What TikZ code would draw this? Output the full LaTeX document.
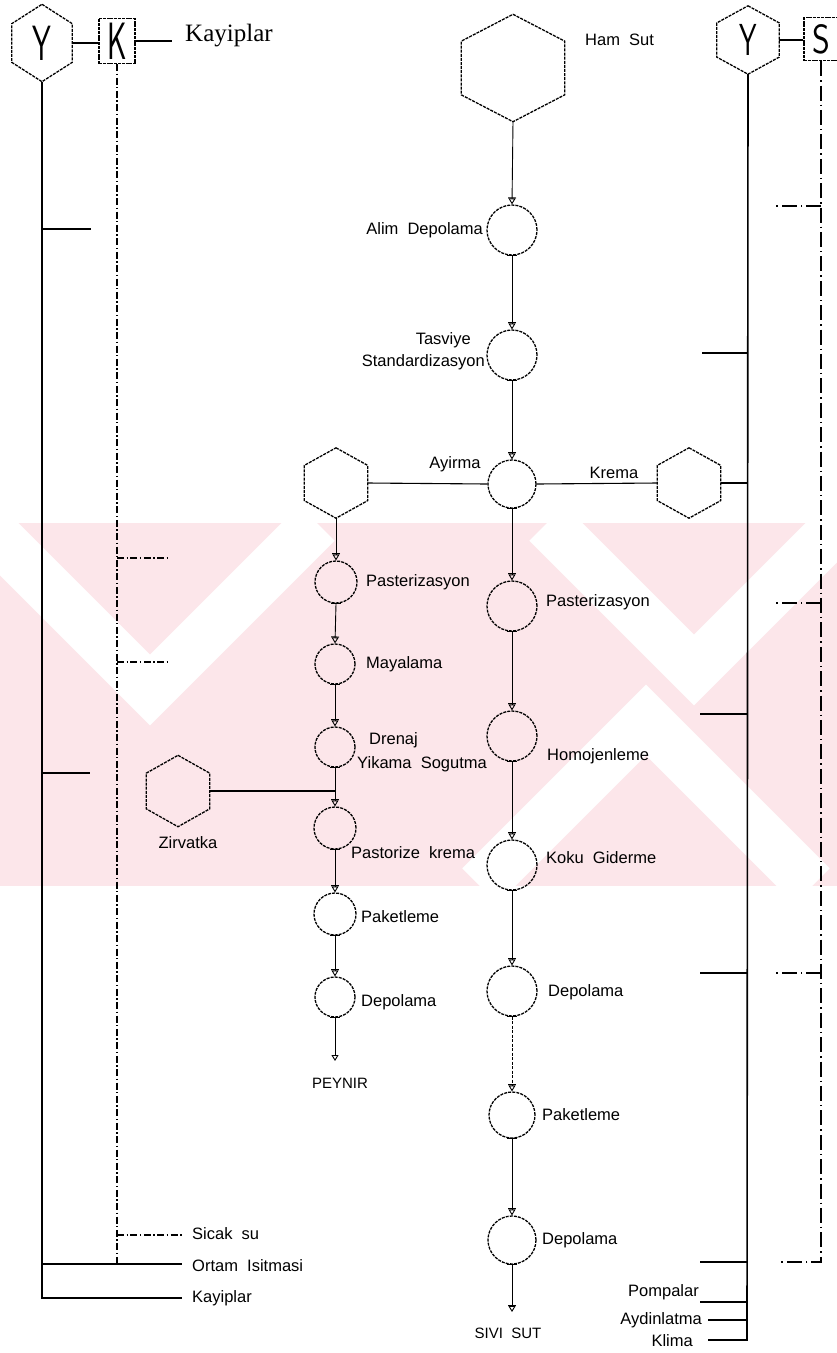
\documentclass[tikz,border=0pt]{standalone}
\usepackage{fontspec}
\usepackage{graphicx}
\setmainfont{Liberation Sans}
\newfontfamily\serifface{Liberation Serif}
\usetikzlibrary{arrows.meta,calc}

% tall, light single letters inside the utility symbols
\newcommand\bigglyph[3]{{\sffamily\fontsize{#1}{#1}\selectfont\scalebox{1}[#2]{#3}}}
% pointy-top hexagon drawn on the border of a rectangle node
\newcommand\hexoutline[1]{%
  \draw[outline] (#1.north) -- ($(#1.north east)!0.5!(#1.east)$)
    -- ($(#1.east)!0.5!(#1.south east)$) -- (#1.south)
    -- ($(#1.south west)!0.5!(#1.west)$) -- ($(#1.west)!0.5!(#1.north west)$) -- cycle;}

\definecolor{stamp}{RGB}{252,230,234}

\tikzset{
  every node/.style={font=\fontsize{16.5}{18}\selectfont},
  outline/.style={line width=1.3pt, dash pattern=on 3pt off 1.1pt},
  stage/.style={circle, draw, outline, minimum size=#1, inner sep=0pt},
  hexbox/.style 2 args={rectangle, minimum width=#1, minimum height=#2, inner sep=0pt},
  letterbox/.style 2 args={rectangle, draw, line width=1.3pt, dash pattern=on 3pt off 0.8pt,
    minimum width=#1, minimum height=#2, inner sep=0pt},
  flow/.style={line width=0.9pt,
    -{Bar[width=8pt,line width=0.9pt]Triangle[open,length=6pt,width=7pt,line width=0.9pt]}},
  feed/.style={line width=1.1pt},
  rail/.style={line width=1.6pt},
  dashdot/.style={line width=1.1pt, dash pattern=on 7pt off 2.5pt on 1.4pt off 2.5pt},
  longdash/.style={line width=1.1pt, dash pattern=on 15pt off 4pt on 1.4pt off 4pt},
  lbl/.style={inner sep=0pt},
  gap/.style={white, line width=50pt, line join=miter},
}

\begin{document}
\begin{tikzpicture}[x=1pt,y=-1pt]
\useasboundingbox (0,0) rectangle (837,1353);
\fill[white] (0,0) rectangle (837,1353);

% ---------------- striped stamp behind the chart ----------------
\begin{scope}
  \clip (0,523) rectangle (837,886);
  \fill[stamp] (0,523) rectangle (837,886);
  \draw[gap] (-17,523) -- (150,690) -- (317,523);
  \draw[gap] (547,523) -- (694,670) -- (841,523);
  \draw[gap] (480,886) -- (646,720) -- (812,886);
\end{scope}

% ---------------- utility symbols at the top ----------------
\node[hexbox={60pt}{77pt}] (ly) at (42,43) {\bigglyph{30}{1.65}{Y}};
\node[letterbox={36pt}{45pt}] (K) at (117,41) {\bigglyph{30}{1.75}{K}};
\node[hexbox={62pt}{68pt}] (ry) at (748,40) {\bigglyph{28}{1.6}{Y}};
\node[letterbox={34pt}{43pt}] (S) at (821,39) {\bigglyph{34}{1.2}{S}};
\hexoutline{ly}
\hexoutline{ry}
\draw[rail] (ly.east) -- (K.west |- ly.east);
\draw[rail] (ry.east) -- (S.west |- ry.east);
\coordinate (kend) at (172,41);
\draw[rail] (K.east) -- (kend);
\node[lbl, anchor=west, font=\serifface\fontsize{25}{28}\selectfont] (t-kayip) at (185,36) {Kayiplar};

% ---------------- left rails: losses ----------------
\coordinate (lfoot) at (42,1298);
\coordinate (lfootend) at (182,1298);
\draw[rail] (ly.south) -- (lfoot) -- (lfootend);
\coordinate (lb1) at (91,229);
\coordinate (lb2) at (90,773);
\coordinate (lb3) at (182,1264);
\foreach \b in {lb1,lb2,lb3} \draw[rail] (\b -| ly.south) -- (\b);
\draw[dashdot] (K.south) -- (K.south |- lb3);
\coordinate (ld1) at (170,558);
\coordinate (ld2) at (170,662);
\coordinate (ld3) at (182,1235);
\foreach \b in {ld1,ld2,ld3} \draw[dashdot] (\b -| K.south) -- (\b);
\node[lbl, anchor=west] (t-sicak) at (192,1234) {Sicak\ \ su};
\node[lbl, anchor=west] (t-ortam) at (192,1266) {Ortam\ \ Isitmasi};
\node[lbl, anchor=west] (t-kayb) at (192,1298) {Kayiplar};

% ---------------- right rails: energy ----------------
\coordinate (rfoot) at (747,1340);
\coordinate (rfootend) at (708,1340);
\draw[rail] (ry.south) -- (rfoot) -- (rfootend);
\coordinate (rb1) at (702,353);
\coordinate (rb2) at (700,714);
\coordinate (rb3) at (700,973);
\coordinate (rb4) at (700,1262);
\coordinate (rb5) at (700,1302);
\coordinate (rb6) at (708,1320);
\foreach \b in {rb1,rb2,rb3,rb4,rb5,rb6} \draw[rail] (\b) -- (\b -| ry.south);
\coordinate (rd4) at (778,1262);
\draw[longdash] (S.south) -- (S.south |- rd4) -- (rd4);
\coordinate (rd1) at (776,206);
\coordinate (rd2) at (776,603);
\coordinate (rd3) at (776,973);
\foreach \b in {rd1,rd2,rd3} \draw[longdash] (\b -| S.south) -- (\b);
\node[lbl, anchor=east] (t-pompa) at (699,1292) {Pompalar};
\node[lbl, anchor=east] (t-aydin) at (702,1320) {Aydinlatma};
\node[lbl, anchor=east] (t-klima) at (693,1341) {Klima};

% ---------------- main milk line ----------------
\node[hexbox={103pt}{107pt}] (ham) at (513,68) {};
\hexoutline{ham}
\node[lbl, anchor=west] (t-ham) at (585,40) {Ham\ \ Sut};

\node[stage=50pt] (alim)  at (512,230) {};
\node[stage=50pt] (tasv)  at (512,355) {};
\node[stage=48pt] (ayir)  at (512,484) {};
\node[stage=50pt] (cpast) at (512,606) {};
\node[stage=50pt] (homo)  at (512,736) {};
\node[stage=50pt] (koku)  at (512,865) {};
\node[stage=50pt] (cdep1) at (512,991) {};
\node[stage=46pt] (cpak)  at (512,1115) {};
\node[stage=48pt] (cdep2) at (512,1240) {};
\coordinate (sivi) at (512,1312);

\draw[flow] (ham.south) -- (alim.north);
\draw[flow] (alim.south) -- (tasv.north);
\draw[flow] (tasv.south) -- (ayir.north);
\draw[flow] (ayir.south) -- (cpast.north);
\draw[flow] (cpast.south) -- (homo.north);
\draw[flow] (homo.south) -- (koku.north);
\draw[flow] (koku.south) -- (cdep1.north);
\draw[flow, dash pattern=on 3pt off 1.5pt] (cdep1.south) -- (cpak.north);
\draw[flow] (cpak.south) -- (cdep2.north);
\draw[flow] (cdep2.south) -- (sivi);

\node[lbl, anchor=east] (t-alim) at (483,230) {Alim\ \ Depolama};
\node[lbl, anchor=east] (t-tasv1) at (471,340) {Tasviye};
\node[lbl, anchor=east] (t-tasv2) at (485,362) {Standardizasyon};
\node[lbl] (t-ayir) at (455,464) {Ayirma};
\node[lbl, anchor=west] (t-cpast) at (546,602) {Pasterizasyon};
\node[lbl, anchor=west] (t-homo) at (547,756) {Homojenleme};
\node[lbl, anchor=west] (t-koku) at (546,858) {Koku\ \ Giderme};
\node[lbl, anchor=west] (t-cdep1) at (548,992) {Depolama};
\node[lbl, anchor=west] (t-cpak) at (542,1115) {Paketleme};
\node[lbl, anchor=west] (t-cdep2) at (542,1240) {Depolama};
\node[lbl, font=\fontsize{15}{17}\selectfont] (t-sivi) at (508,1333) {SIVI\ \ SUT};

% ---------------- separator outputs ----------------
\node[hexbox={63pt}{70pt}] (lhex) at (336,483) {};
\node[hexbox={63pt}{70pt}] (khex) at (689,483) {};
\hexoutline{lhex}
\hexoutline{khex}
\draw[feed] (ayir.west) -- (lhex.east);
\draw[feed] (ayir.east) -- (khex.west);
\draw[rail] (khex.east) -- (khex.east -| ry.south);
\node[lbl] (t-krema) at (614,473) {Krema};

% ---------------- cheese line ----------------
\node[stage=42pt] (lpast) at (336,582) {};
\node[stage=40pt] (maya)  at (335,664) {};
\node[stage=40pt] (dren)  at (335,747) {};
\node[stage=42pt] (pkrem) at (335,828) {};
\node[stage=42pt] (lpak)  at (335,914) {};
\node[stage=40pt] (ldep)  at (335,997) {};
\coordinate (peyn) at (335,1061);

\node[hexbox={63pt}{71pt}] (zirv) at (178,791) {};
\hexoutline{zirv}
\coordinate (join) at (dren.south |- zirv.east);
\draw[feed] (zirv.east) -- (join);

\draw[flow] (lhex.south) -- (lpast.north);
\draw[flow] (lpast.south) -- (maya.north);
\draw[flow] (maya.south) -- (dren.north);
\draw[flow] (dren.south) -- (pkrem.north);
\draw[flow] (pkrem.south) -- (lpak.north);
\draw[flow] (lpak.south) -- (ldep.north);
\draw[line width=0.9pt, -{Triangle[open,length=6pt,width=7pt,line width=0.9pt]}] (ldep.south) -- (peyn);

\node[lbl, anchor=west] (t-lpast) at (366,582) {Pasterizasyon};
\node[lbl, anchor=west] (t-maya) at (366,664) {Mayalama};
\node[lbl, anchor=west] (t-dren1) at (369,740) {Drenaj};
\node[lbl, anchor=west] (t-dren2) at (357,764) {Yikama\ \ Sogutma};
\node[lbl] (t-zirv) at (188,843) {Zirvatka};
\node[lbl, anchor=west] (t-pkrem) at (351,853) {Pastorize\ \ krema};
\node[lbl, anchor=west] (t-lpak) at (361,917) {Paketleme};
\node[lbl, anchor=west] (t-ldep) at (361,1002) {Depolama};
\node[lbl, font=\fontsize{15}{17}\selectfont] (t-peyn) at (340,1083) {PEYNIR};

% short flats at the foot of each process circle
\foreach \c in {alim,tasv,ayir,cpast,homo,koku,cdep1,cpak,cdep2,lpast,maya,dren,pkrem,lpak,ldep}
  \draw[feed] ($(\c.south)+(-5,0)$) -- ($(\c.south)+(5,0)$);
\end{tikzpicture}
\end{document}
